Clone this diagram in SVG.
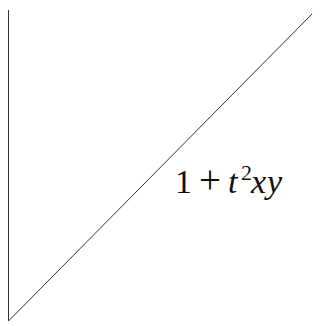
<svg xmlns="http://www.w3.org/2000/svg" width="323" height="326" viewBox="0 0 323 326">
<style>
.ln{stroke:#333;stroke-width:1;fill:none}
.lb{font-family:'Liberation Serif','Times New Roman',serif;font-size:34px;fill:#111}
.it{font-style:italic}
</style>
<rect width="323" height="326" fill="#fff"/>
<g id="connectors">
<line class="ln" x1="8.5" y1="10" x2="8.5" y2="321"/>
<line class="ln" x1="8.5" y1="321" x2="312" y2="14"/>
</g>
<g id="label">
<text class="lb" y="193"><tspan x="175">1</tspan><tspan x="199" font-size="39">+</tspan><tspan class="it" x="228">t</tspan><tspan x="241" y="180" font-size="22">2</tspan><tspan class="it" x="251" y="193">x</tspan><tspan class="it" x="267">y</tspan></text>
</g>
</svg>
